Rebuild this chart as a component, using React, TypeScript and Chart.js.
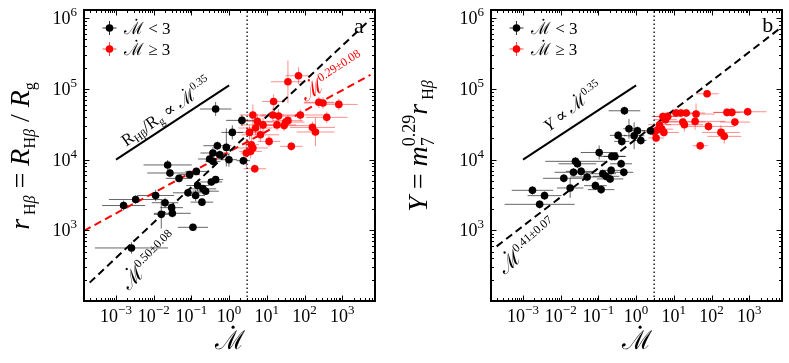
import React, { useEffect, useRef } from "react";
import { Chart, registerables } from "chart.js";
Chart.register(...registerables);

const FONT = "'Liberation Serif','DejaVu Serif',serif";

// ---------------- axis limits (log10) ----------------
const LOG_X_MIN = -3.85;
const LOG_X_MAX = 3.87;
const LOG_Y_MIN = 2.0;
const LOG_Y_MAX = 6.115;
const xTickExps = [-3, -2, -1, 0, 1, 2, 3];
const yTickExps = [3, 4, 5, 6];
const mdotBoundary = 3;

// ---------------- panel a: r_Hβ vs Ṁ (log10 values, errors in dex) ----------------
const aLowLogMdot = [-0.358, 0.34, 0.085, -0.313, -0.074, -0.43, -0.25, -0.517, -0.43, -0.005, 0.377, -1.631, -1.57, -1.33, -1.048, -0.87, -0.472, -0.358, -0.836, -0.694, -0.623, -1.092, -0.889, -0.721, -1.95, -2.48, -2.8, -1.7, -1.525, -1.507, -1.8, -0.96, -2.59];
const aLowLogR = [4.715, 4.554, 4.384, 4.196, 4.172, 4.093, 4.069, 4.008, 3.975, 3.998, 3.984, 3.924, 3.81, 3.734, 3.787, 3.833, 3.683, 3.716, 3.633, 3.586, 3.553, 3.53, 3.492, 3.398, 3.492, 3.435, 3.35, 3.39, 3.32, 3.24, 3.225, 3.042, 2.75];
const aLowErrX = [0.42, 0.42, 0.29, 0.37, 0.1, 0.33, 0.25, 0.31, 0.2, 0.22, 0.18, 0.64, 0.6, 0.35, 0.27, 0.29, 0.29, 0.2, 0.3, 0.35, 0.35, 0.4, 0.25, 0.3, 0.49, 0.71, 0.57, 0.35, 0.3, 0.49, 0.2, 0.4, 0.97];
const aLowErrY = [0.1, 0.08, 0.1, 0.06, 0.27, 0.08, 0.06, 0.05, 0.06, 0.1, 0.06, 0.07, 0.06, 0.05, 0.05, 0.05, 0.05, 0.05, 0.08, 0.06, 0.05, 0.06, 0.08, 0.05, 0.08, 0.06, 0.07, 0.07, 0.05, 0.06, 0.2, 0.05, 0.08];

const aHighLogMdot = [1.56, 1.84, 1.18, 2.38, 2.49, 2.91, 0.63, 1.16, 1.31, 1.89, 2.59, 0.75, 0.9, 1.56, 1.27, 1.46, 1.5, 0.7, 2.21, 2.29, 0.54, 0.83, 1.06, 0.59, 0.63, 1.65, 0.456, 0.57, 0.68];
const aHighLogR = [5.1, 5.185, 4.822, 4.81, 4.8, 4.78, 4.63, 4.63, 4.615, 4.63, 4.597, 4.54, 4.49, 4.55, 4.49, 4.48, 4.53, 4.446, 4.455, 4.39, 4.384, 4.35, 4.257, 4.21, 4.164, 4.187, 4.093, 4.116, 3.87];
const aHighErrX = [0.45, 0.35, 0.3, 0.4, 0.5, 0.5, 0.35, 0.3, 0.5, 0.6, 0.55, 0.4, 0.6, 0.4, 0.5, 0.7, 0.5, 0.45, 0.6, 0.5, 0.3, 0.5, 0.3, 0.2, 0.4, 0.3, 0.15, 0.3, 0.3];
const aHighErrY = [0.3, 0.12, 0.1, 0.08, 0.08, 0.08, 0.15, 0.1, 0.1, 0.08, 0.08, 0.1, 0.1, 0.08, 0.08, 0.08, 0.08, 0.1, 0.08, 0.2, 0.1, 0.1, 0.08, 0.15, 0.1, 0.06, 0.2, 0.1, 0.06];

const aFitLowLogMdot = [-3.7, 3.7];
const aFitLowLogR = [2.26, 5.96];
const aFitHighLogMdot = [-3.85, 3.75];
const aFitHighLogR = [2.993, 5.198];
const aSlopeLogMdot = [-3, 0];
const aSlopeLogR = [4.0, 5.05];

// ---------------- panel b: Y vs Ṁ ----------------
const bLowLogMdot = [-0.31, -0.19, 0.035, -0.053, 0.124, 0.38, -0.477, -0.38, -0.98, -0.645, -0.565, -1.61, -1.557, -0.398, -1.663, -1.459, -1.3, -1.918, -0.884, -0.796, -0.663, -0.69, -0.326, -1.08, -0.928, -1.75, -2.75, -2.43, -2.56];
const bLowLogY = [4.69, 4.436, 4.408, 4.337, 4.27, 4.408, 4.342, 4.257, 4.1, 4.045, 4.045, 3.975, 3.94, 3.94, 3.82, 3.833, 3.754, 3.735, 3.8, 3.763, 3.847, 3.726, 3.82, 3.631, 3.575, 3.598, 3.565, 3.49, 3.367];
const bLowErrX = [0.42, 0.15, 0.2, 0.27, 0.15, 0.22, 0.22, 0.2, 0.49, 0.35, 0.3, 0.8, 0.5, 0.29, 0.5, 0.4, 0.45, 0.55, 0.35, 0.35, 0.3, 0.35, 0.25, 0.3, 0.35, 0.35, 0.55, 0.45, 0.93];
const bLowErrY = [0.06, 0.14, 0.06, 0.19, 0.06, 0.06, 0.06, 0.06, 0.1, 0.06, 0.06, 0.06, 0.06, 0.06, 0.06, 0.06, 0.06, 0.06, 0.06, 0.06, 0.06, 0.06, 0.06, 0.06, 0.06, 0.14, 0.06, 0.06, 0.06];

const bHighLogMdot = [1.883, 1.06, 1.19, 1.33, 1.59, 2.41, 2.54, 2.96, 0.71, 0.84, 0.78, 1.24, 1.28, 1.565, 2.62, 1.92, 0.62, 0.575, 0.68, 0.735, 0.486, 0.53, 2.25, 2.34, 1.7];
const bHighLogY = [4.93, 4.658, 4.658, 4.658, 4.644, 4.667, 4.667, 4.676, 4.61, 4.61, 4.564, 4.53, 4.493, 4.54, 4.53, 4.469, 4.493, 4.422, 4.43, 4.384, 4.39, 4.305, 4.384, 4.328, 4.196];
const bHighErrX = [0.3, 0.3, 0.35, 0.5, 0.5, 0.35, 0.5, 0.5, 0.3, 0.35, 0.3, 0.6, 0.5, 0.8, 0.4, 0.7, 0.3, 0.25, 0.3, 0.4, 0.3, 0.2, 0.5, 0.45, 0.2];
const bHighErrY = [0.05, 0.06, 0.06, 0.06, 0.15, 0.06, 0.06, 0.06, 0.06, 0.06, 0.06, 0.06, 0.1, 0.12, 0.06, 0.06, 0.06, 0.06, 0.06, 0.06, 0.06, 0.06, 0.1, 0.1, 0.06];

const bFitLogMdot = [-3.7, 3.87];
const bFitLogY = [2.773, 5.877];
const bSlopeLogMdot = [-3, 0];
const bSlopeLogY = [4.0, 5.05];

// ---------------- helpers ----------------
type Seg = { t: string; s: number; it?: boolean; dy?: number; stack?: boolean; dot?: boolean };
const fontOf = (g: Seg) => `${g.it ? "italic " : ""}${g.s}px ${FONT}`;
const MD = "\u2133";

function drawRich(ctx: CanvasRenderingContext2D, segs: Seg[], x: number, y: number, angle = 0, align = "center", color = "#000", vshift = 0) {
  ctx.save();
  ctx.translate(x, y);
  if (angle) ctx.rotate((angle * Math.PI) / 180);
  const ws = segs.map((g) => {
    ctx.font = fontOf(g);
    return ctx.measureText(g.t).width;
  });
  const xs: number[] = [];
  let cur = 0, start = 0, prevW = 0;
  segs.forEach((g, i) => {
    if (g.stack) {
      xs.push(start);
      const w = Math.max(prevW, ws[i]);
      cur = start + w;
      prevW = w;
    } else {
      xs.push(cur);
      start = cur;
      prevW = ws[i];
      cur += ws[i];
    }
  });
  const off = align === "center" ? -cur / 2 : align === "right" ? -cur : 0;
  ctx.fillStyle = color;
  ctx.textAlign = "left";
  ctx.textBaseline = "alphabetic";
  segs.forEach((g, i) => {
    ctx.font = fontOf(g);
    const gx = off + xs[i];
    const gy = (g.dy || 0) + vshift;
    ctx.fillText(g.t, gx, gy);
    if (g.dot) {
      ctx.beginPath();
      ctx.arc(gx + ws[i] * 0.62, gy - g.s * 0.84, Math.max(1, g.s * 0.06), 0, Math.PI * 2);
      ctx.fill();
    }
  });
  ctx.restore();
}

const expText = (e: number) => (e < 0 ? "\u2212" + Math.abs(e) : String(e));
const pts = (lx: number[], ly: number[]) => lx.map((v, i) => ({ x: Math.pow(10, v), y: Math.pow(10, ly[i]) }));

interface Ann { segs: Seg[]; lx: number; ly: number; angle: number; color: string }
interface Panel {
  low: [number[], number[], number[], number[]];
  high: [number[], number[], number[], number[]];
  fits: { lx: number[]; ly: number[]; color: string; dash: number[] }[];
  slope: [number[], number[]];
  yAxisW: number;
  padRight: number;
  canvasW: number;
  ylabel: Seg[];
  ylabelX: number;
  ylabelY: number;
  anns: Ann[];
  letter: string;
  letterPos: [number, number];
}

const panelA: Panel = {
  low: [aLowLogMdot, aLowLogR, aLowErrX, aLowErrY],
  high: [aHighLogMdot, aHighLogR, aHighErrX, aHighErrY],
  fits: [
    { lx: aFitLowLogMdot, ly: aFitLowLogR, color: "#000", dash: [7.5, 4.5] },
    { lx: aFitHighLogMdot, ly: aFitHighLogR, color: "#ff0000", dash: [7.5, 4.5] },
  ],
  slope: [aSlopeLogMdot, aSlopeLogR],
  yAxisW: 84,
  padRight: 19,
  canvasW: 394,
  ylabel: [
    { t: "r", s: 28, it: true },
    { t: " H", s: 16, dy: 6 },
    { t: "\u03b2", s: 16, it: true, dy: 6 },
    { t: " = ", s: 28 },
    { t: "R", s: 28, it: true },
    { t: "H", s: 16, dy: 6 },
    { t: "\u03b2", s: 16, it: true, dy: 6 },
    { t: " / ", s: 28 },
    { t: "R", s: 28, it: true },
    { t: "g", s: 16, dy: 6 },
  ],
  ylabelX: 21,
  ylabelY: 156,
  anns: [
    {
      segs: [
        { t: "R", s: 17 },
        { t: "H\u03b2", s: 11, dy: 3 },
        { t: "/", s: 17 },
        { t: "R", s: 17 },
        { t: "g", s: 11, dy: 3 },
        { t: " \u221d ", s: 17 },
        { t: MD, s: 17, dot: true },
        { t: "0.35", s: 11, dy: -8 },
      ],
      lx: -1.67, ly: 4.68, angle: -35, color: "#000",
    },
    { segs: [{ t: MD, s: 20, dot: true }, { t: "0.50\u00b10.08", s: 12, dy: -9 }], lx: -2.11, ly: 2.56, angle: -45, color: "#000" },
    { segs: [{ t: MD, s: 20, dot: true }, { t: "0.29\u00b10.08", s: 12, dy: -9 }], lx: 2.75, ly: 5.16, angle: -33, color: "#ff0000" },
  ],
  letter: "a",
  letterPos: [3.44, 5.87],
};

const panelB: Panel = {
  low: [bLowLogMdot, bLowLogY, bLowErrX, bLowErrY],
  high: [bHighLogMdot, bHighLogY, bHighErrX, bHighErrY],
  fits: [{ lx: bFitLogMdot, ly: bFitLogY, color: "#000", dash: [7.5, 4.5] }],
  slope: [bSlopeLogMdot, bSlopeLogY],
  yAxisW: 97,
  padRight: 7,
  canvasW: 395,
  ylabel: [
    { t: "Y", s: 28, it: true },
    { t: " = ", s: 28 },
    { t: "m", s: 28, it: true },
    { t: "7", s: 18, dy: 7 },
    { t: "0.29", s: 18, dy: -12, stack: true },
    { t: "r", s: 28, it: true },
    { t: " H", s: 16, dy: 6 },
    { t: "\u03b2", s: 16, it: true, dy: 6 },
  ],
  ylabelX: 25,
  ylabelY: 146,
  anns: [
    {
      segs: [
        { t: "Y", s: 17, it: true },
        { t: " \u221d ", s: 17 },
        { t: MD, s: 17, dot: true },
        { t: "0.35", s: 11, dy: -8 },
      ],
      lx: -1.68, ly: 4.75, angle: -37, color: "#000",
    },
    { segs: [{ t: MD, s: 20, dot: true }, { t: "0.41\u00b10.07", s: 12, dy: -9 }], lx: -2.87, ly: 2.77, angle: -41, color: "#000" },
  ],
  letter: "b",
  letterPos: [3.49, 5.89],
};

function makeChart(canvas: HTMLCanvasElement, p: Panel) {
  const errPlugin = {
    id: "errbars",
    beforeDatasetsDraw(chart: any) {
      const { ctx, chartArea: a } = chart;
      const xs = chart.scales.x, ys = chart.scales.y;
      ctx.save();
      ctx.beginPath();
      ctx.rect(a.left, a.top, a.right - a.left, a.bottom - a.top);
      ctx.clip();
      const groups: [any, string][] = [
        [p.high, "rgba(255,0,0,0.45)"],
        [p.low, "rgba(0,0,0,0.6)"],
      ];
      groups.forEach(([g, col]) => {
        const [lx, ly, ex, ey] = g;
        ctx.strokeStyle = col;
        ctx.lineWidth = 1;
        lx.forEach((v: number, i: number) => {
          const px = xs.getPixelForValue(Math.pow(10, v));
          const py = ys.getPixelForValue(Math.pow(10, ly[i]));
          const x0 = xs.getPixelForValue(Math.pow(10, v - ex[i]));
          const x1 = xs.getPixelForValue(Math.pow(10, v + ex[i]));
          const y0 = ys.getPixelForValue(Math.pow(10, ly[i] - ey[i]));
          const y1 = ys.getPixelForValue(Math.pow(10, ly[i] + ey[i]));
          ctx.beginPath();
          ctx.moveTo(x0, py);
          ctx.lineTo(x1, py);
          ctx.moveTo(px, y0);
          ctx.lineTo(px, y1);
          ctx.stroke();
        });
      });
      ctx.restore();
    },
    afterDraw(chart: any) {
      const { ctx, chartArea: a } = chart;
      const xs = chart.scales.x, ys = chart.scales.y;
      const P = (lx: number, ly: number) => [xs.getPixelForValue(Math.pow(10, lx)), ys.getPixelForValue(Math.pow(10, ly))];
      ctx.save();
      ctx.strokeStyle = "#000";
      ctx.lineWidth = 1;
      const seg = (x0: number, y0: number, x1: number, y1: number) => {
        ctx.beginPath();
        ctx.moveTo(x0, y0);
        ctx.lineTo(x1, y1);
        ctx.stroke();
      };
      for (let e = -5; e <= 4; e++) {
        for (let m = 1; m <= 9; m++) {
          const px = Math.round(xs.getPixelForValue(m * Math.pow(10, e))) + 0.5;
          if (px < a.left + 1 || px > a.right - 1) continue;
          const L = m === 1 ? 5.5 : 3;
          seg(px, a.bottom, px, a.bottom - L);
          seg(px, a.top, px, a.top + L);
        }
      }
      for (let e = 1; e <= 6; e++) {
        for (let m = 1; m <= 9; m++) {
          const py = Math.round(ys.getPixelForValue(m * Math.pow(10, e))) + 0.5;
          if (py < a.top + 1 || py > a.bottom - 1) continue;
          const L = m === 1 ? 5.5 : 3;
          seg(a.left, py, a.left + L, py);
          seg(a.right, py, a.right - L, py);
        }
      }
      ctx.lineWidth = 2;
      ctx.strokeRect(a.left, a.top, a.right - a.left, a.bottom - a.top);
      ctx.restore();

      // tick labels
      xTickExps.forEach((e) => {
        const px = xs.getPixelForValue(Math.pow(10, e));
        drawRich(ctx, [{ t: "10", s: 18 }, { t: expText(e), s: 13, dy: -8 }], px, a.bottom + 21, 0, "center");
      });
      yTickExps.forEach((e) => {
        const py = ys.getPixelForValue(Math.pow(10, e));
        drawRich(ctx, [{ t: "10", s: 18 }, { t: expText(e), s: 13, dy: -8 }], a.left - 7, py + 6, 0, "right");
      });

      // axis labels
      drawRich(ctx, [{ t: MD, s: 26, dot: true }], (a.left + a.right) / 2, 349, 0, "center");
      drawRich(ctx, p.ylabel, p.ylabelX, p.ylabelY, -90, "center", "#000", 8);

      // annotations
      p.anns.forEach((an) => {
        const [x, y] = P(an.lx, an.ly);
        drawRich(ctx, an.segs, x, y, an.angle, "center", an.color, 6);
      });
      const [lx, ly] = P(p.letterPos[0], p.letterPos[1]);
      drawRich(ctx, [{ t: p.letter, s: 22 }], lx, ly, 0, "center", "#000", 6);

      // legend
      const items: [string, string, string][] = [
        ["#000", "rgba(0,0,0,0.8)", " < 3"],
        ["#ff0000", "rgba(255,0,0,0.7)", " \u2265 3"],
      ];
      items.forEach(([c, lc], i) => {
        const mx = a.left + 25.5, my = a.top + 18 + i * 21;
        ctx.save();
        ctx.strokeStyle = lc;
        ctx.lineWidth = 1;
        seg(mx - 7, my, mx + 7, my);
        seg(mx, my - 7, mx, my + 7);
        ctx.fillStyle = c;
        ctx.beginPath();
        ctx.arc(mx, my, 3.8, 0, Math.PI * 2);
        ctx.fill();
        ctx.restore();
        drawRich(ctx, [{ t: MD, s: 17, dot: true }, { t: items[i][2], s: 17 }], a.left + 40, my + 6, 0, "left");
      });
    },
  };

  const datasets: any[] = [
    {
      data: pts(p.low[0], p.low[1]),
      backgroundColor: "#000",
      borderColor: "#000",
      pointRadius: 3.8,
      pointBorderWidth: 0,
      showLine: false,
    },
    {
      data: pts(p.high[0], p.high[1]),
      backgroundColor: "#ff0000",
      borderColor: "#ff0000",
      pointRadius: 3.8,
      pointBorderWidth: 0,
      showLine: false,
    },
    ...p.fits.map((f) => ({
      data: pts(f.lx, f.ly),
      borderColor: f.color,
      borderWidth: 2,
      borderDash: f.dash,
      pointRadius: 0,
      showLine: true,
    })),
    {
      data: pts(p.slope[0], p.slope[1]),
      borderColor: "#000",
      borderWidth: 2,
      pointRadius: 0,
      showLine: true,
    },
    {
      data: [
        { x: mdotBoundary, y: Math.pow(10, LOG_Y_MIN) },
        { x: mdotBoundary, y: Math.pow(10, LOG_Y_MAX) },
      ],
      borderColor: "#000",
      borderWidth: 1.3,
      borderDash: [1.5, 2.5],
      pointRadius: 0,
      showLine: true,
    },
  ];

  return new Chart(canvas, {
    type: "scatter",
    data: { datasets },
    options: {
      responsive: false,
      animation: false,
      devicePixelRatio: 1,
      events: [],
      layout: { padding: { top: 10, right: p.padRight, left: 0, bottom: 0 } },
      plugins: { legend: { display: false }, tooltip: { enabled: false } },
      scales: {
        x: {
          type: "logarithmic",
          min: Math.pow(10, LOG_X_MIN),
          max: Math.pow(10, LOG_X_MAX),
          grid: { display: false },
          border: { display: false },
          ticks: { display: false },
          afterFit: (s: any) => {
            s.height = 62;
          },
        },
        y: {
          type: "logarithmic",
          min: Math.pow(10, LOG_Y_MIN),
          max: Math.pow(10, LOG_Y_MAX),
          grid: { display: false },
          border: { display: false },
          ticks: { display: false },
          afterFit: (s: any) => {
            s.width = p.yAxisW;
          },
        },
      },
    } as any,
    plugins: [errPlugin],
  });
}

function PanelCanvas({ p, left }: { p: Panel; left: number }) {
  const ref = useRef<HTMLCanvasElement>(null);
  useEffect(() => {
    if (!ref.current) return;
    const c = makeChart(ref.current, p);
    return () => c.destroy();
  }, [p]);
  return (
    <canvas
      ref={ref}
      width={p.canvasW}
      height={363}
      style={{ position: "absolute", left, top: 0, width: p.canvasW, height: 363 }}
    />
  );
}

export default function App() {
  return (
    <div style={{ position: "absolute", left: 0, top: 0, width: 789, height: 363, background: "#fff" }}>
      <PanelCanvas p={panelA} left={0} />
      <PanelCanvas p={panelB} left={394} />
    </div>
  );
}
